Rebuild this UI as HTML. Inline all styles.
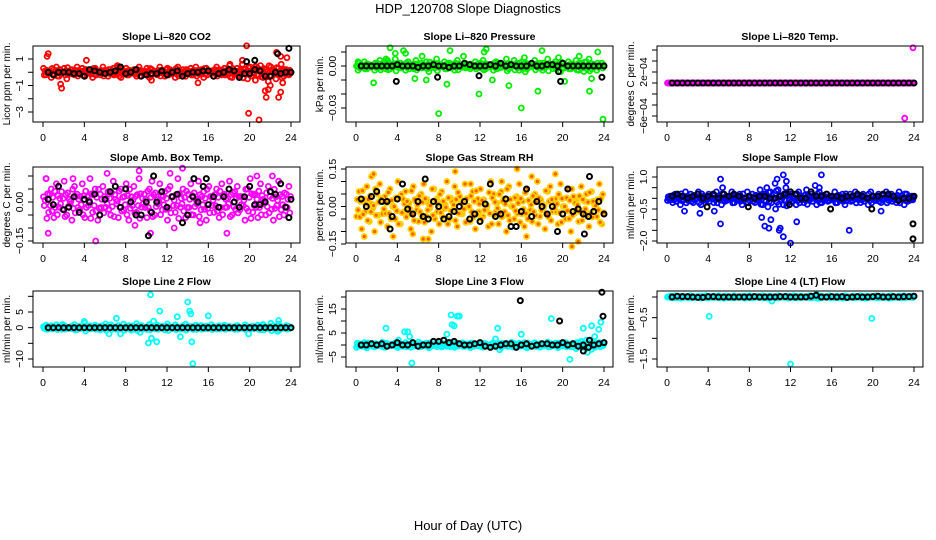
<!DOCTYPE html>
<html><head><meta charset="utf-8">
<style>
html,body{margin:0;padding:0;background:#fff;}
svg{display:block;font-family:"Liberation Sans",sans-serif;}
</style></head>
<body>
<svg id="chart" width="936" height="540" viewBox="0 0 936 540">
<text x="468" y="13" text-anchor="middle" font-size="13">HDP_120708  Slope Diagnostics</text>
<text x="468" y="530" text-anchor="middle" font-size="13">Hour of Day (UTC)</text>
</svg>
<script>
// ---- sampling times (hours) ----
const colHours = []; for (let i = 0; i < 96; i++) colHours.push(i * 0.25);
const blkHours = []; for (let i = 0; i < 48; i++) blkHours.push(0.5 + i * 0.5);
const xTicks = [0, 4, 8, 12, 16, 20, 24];

// ---- Panel 1: Li-820 CO2 ----
const co2Col = [0.3,-0.2,0.1,-0.4,0.2,0.4,-0.3,0.0,0.3,-0.5,0.1,0.2,-0.2,0.4,-0.1,0.3,-0.3,0.1,0.2,-0.4,0.3,0.0,-0.2,0.4,0.1,-0.3,0.2,0.3,-0.1,0.4,-0.4,0.1,0.3,-0.2,0.0,0.2,-0.3,0.4,0.1,-0.1,0.3,-0.4,0.2,0.0,-0.2,0.4,0.1,-0.3,0.3,0.2,-0.1,-0.4,0.4,0.0,0.2,-0.3,0.1,0.3,-0.2,0.4,-0.1,0.2,-0.4,0.3,0.0,0.1,-0.3,0.4,0.2,-0.2,0.3,-0.1,0.5,-0.4,0.1,0.3,-0.3,0.6,0.2,-0.5,0.4,0.0,-0.6,0.3,0.5,-0.4,0.2,-0.7,0.4,0.1,-0.5,0.3,0.6,-0.3,0.2,-0.2];
const co2OutX = [0.4,0.5,1.7,1.8,4.2,7.2,18.1,19.3,19.7,19.9,20.9,21.5,21.6,21.8,22.0,22.8,23.0,23.2,23.0,23.6,22.6,20.5,15.0,10.5];
const co2OutY = [1.2,1.4,-0.9,-1.2,0.9,0.5,0.6,0.9,2.0,-3.1,-3.6,-1.4,-1.9,-1.3,-1.0,-1.9,1.2,-0.8,-1.5,1.1,1.5,0.4,-0.8,-0.6];
const co2Blk = [0.0,-0.2,0.0,0.0,0.0,-0.1,-0.1,-0.3,0.2,0.1,0.0,-0.1,0.0,0.1,0.4,-0.1,0.0,0.2,-0.3,-0.2,-0.1,-0.1,0.1,-0.2,0.0,0.1,-0.3,-0.1,0.0,0.0,0.1,0.1,-0.3,-0.1,0.0,0.2,0.1,-0.4,-0.1,-0.1,0.2,0.1,-0.3,-0.3,0.0,-0.1,0.0,0.0];
const co2BlkOutX = [19.7,20.5,22.7,23.8];
const co2BlkOutY = [0.8,0.9,1.4,1.8];

// ---- Panel 2: Li-820 Pressure ----
const presCol = [0.000,0.002,-0.001,0.003,-0.002,0.001,0.000,-0.003,0.002,0.004,-0.001,0.003,0.004,-0.002,0.001,0.005,-0.001,0.002,0.000,-0.003,0.003,0.001,-0.002,0.004,0.000,0.002,-0.001,0.003,-0.004,0.001,0.002,0.005,-0.001,0.000,0.003,-0.002,0.002,0.001,-0.003,0.004,0.000,-0.001,0.002,0.001,-0.002,0.000,0.003,-0.001,0.002,0.004,-0.002,0.001,0.000,-0.003,0.003,0.002,-0.001,0.001,0.005,-0.002,0.000,0.004,0.002,-0.003,0.003,0.006,-0.002,0.001,0.000,0.004,-0.001,0.002,-0.003,0.001,0.005,0.000,-0.002,0.003,0.001,-0.004,0.002,0.000,0.003,-0.002,0.001,0.004,-0.003,0.002,-0.004,0.003,0.005,-0.002,0.001,-0.003,0.000,0.002];
const presOutX = [0.2,0.2,3.3,3.8,4.6,4.8,1.7,8.0,8.8,9.1,6.4,6.8,11.9,12.6,12.4,13.2,14.8,16.0,17.6,18.0,19.6,20.2,21.6,22.6,23.4,23.9,2.9,10.4,5.7,22.8];
const presOutY = [0.003,-0.003,0.013,0.009,0.011,0.009,-0.012,-0.034,-0.013,0.011,0.007,-0.010,-0.020,0.012,0.010,-0.010,-0.014,-0.030,-0.018,0.011,0.006,-0.011,0.007,-0.018,0.010,-0.038,0.005,0.007,-0.009,-0.009];
const presBlk = [0.000,0.000,0.000,0.000,0.000,0.000,0.000,0.001,0.000,0.000,0.000,-0.001,0.000,0.000,0.001,0.000,0.000,-0.001,0.000,0.000,0.002,0.001,0.000,0.000,0.000,0.001,0.000,0.002,0.000,0.001,0.000,0.000,0.000,0.002,0.000,0.000,0.001,0.001,0.000,0.002,0.000,0.000,0.000,0.000,0.000,0.000,0.000,0.000];
const presBlkOutX = [3.9,7.9,11.9,19.8,23.8,19.6];
const presBlkOutY = [-0.011,-0.008,-0.007,-0.011,-0.008,-0.004];

// ---- Panel 3: Li-820 Temp ----
const tempCol = new Array(96).fill(0);
const tempOutX = [23.9,23.1];
const tempOutY = [0.00064,-0.00064];
const tempBlk = new Array(48).fill(0);
const tempBlkOutX = [];
const tempBlkOutY = [];

// ---- Panel 4: Amb. Box Temp ----
const ambCol = [0.02,0.09,-0.04,0.05,-0.06,0.07,-0.02,0.04,0.08,-0.05,0.01,-0.07,0.06,0.03,-0.03,0.07,-0.06,0.02,0.09,-0.04,0.05,-0.07,0.03,0.06,-0.02,0.04,-0.05,0.08,0.01,-0.06,0.05,-0.03,0.07,-0.07,0.02,0.06,-0.04,0.09,-0.02,0.03,-0.06,0.05,0.08,-0.05,0.01,0.07,-0.03,0.04,-0.07,0.06,0.02,-0.04,0.09,-0.02,0.05,-0.06,0.03,0.07,-0.05,0.01,0.08,-0.03,0.04,-0.07,0.06,0.02,-0.04,0.05,-0.06,0.07,0.03,-0.02,0.08,-0.05,0.04,0.06,-0.03,0.02,-0.07,0.05,0.09,-0.04,0.03,-0.06,0.07,0.01,-0.05,0.06,0.04,-0.07,0.02,0.08,-0.03,-0.05,0.03,0.06];
const ambOutX = [0.3,5.1,9.3,13.5,12.3,20.7,22.2,6.2,17.8,10.4,8.9,12.7,0.5,2.9,15.2];
const ambOutY = [0.09,-0.15,0.12,0.13,0.11,0.10,0.10,0.11,-0.12,-0.12,-0.09,-0.10,-0.12,0.09,-0.08];
const ambBlk = [0.01,-0.01,0.06,-0.03,-0.02,0.02,-0.04,0.01,0.00,0.03,-0.05,0.01,0.04,0.06,-0.02,0.05,0.00,-0.05,-0.05,0.00,-0.04,0.00,0.04,-0.02,0.02,0.03,-0.08,-0.05,0.02,0.00,0.06,-0.01,0.02,-0.02,0.02,0.05,0.00,-0.02,0.02,0.06,-0.01,-0.01,0.00,0.04,0.03,0.07,-0.02,0.01];
const ambBlkOutX = [10.2,10.7,14.6,15.8,23.8];
const ambBlkOutY = [-0.13,0.10,0.09,0.09,-0.06];

// ---- Panel 5: Gas Stream RH ----
const rhCol = [-0.04,0.06,-0.09,0.03,0.08,-0.06,0.01,-0.10,0.05,0.09,-0.03,0.04,-0.08,0.07,0.00,-0.05,0.10,-0.07,0.03,0.06,-0.02,-0.09,0.08,0.02,-0.06,0.05,0.09,-0.04,0.01,-0.10,0.07,0.03,-0.07,0.06,-0.01,0.10,-0.05,0.02,0.08,-0.08,0.04,-0.03,0.09,0.00,-0.06,0.06,-0.09,0.03,0.07,-0.04,0.01,-0.08,0.10,0.05,-0.02,-0.07,0.06,0.03,-0.10,0.08,0.00,-0.05,0.04,0.09,-0.03,-0.08,0.07,0.02,-0.06,0.05,0.10,-0.04,0.01,-0.09,0.06,0.08,-0.02,0.03,-0.07,0.09,0.00,-0.05,0.07,-0.10,0.04,0.02,-0.06,0.08,-0.03,0.05,-0.08,0.06,0.01,-0.04,0.09,-0.07];
const rhOutX = [1.5,1.7,9.6,15.6,17.0,19.3,20.9,6.5,7.0,3.6,0.8,16.5,21.5,14.1,11.1,5.5];
const rhOutY = [0.12,0.13,0.14,0.15,0.12,0.13,-0.16,-0.13,-0.13,-0.12,-0.12,-0.12,-0.14,0.10,0.09,-0.11];
const rhBlk = [0.03,0.00,0.04,0.06,0.02,0.02,-0.04,0.03,0.09,-0.01,-0.03,0.02,-0.04,-0.05,0.02,0.00,-0.05,-0.04,-0.02,0.00,0.02,-0.05,-0.03,-0.06,0.01,0.09,-0.04,-0.03,0.03,-0.08,-0.08,-0.02,0.07,-0.04,0.02,0.00,-0.03,0.00,-0.10,-0.03,0.07,-0.02,-0.01,-0.03,-0.04,-0.02,0.02,-0.03];
const rhBlkOutX = [6.7,22.6,3.3,22.1];
const rhBlkOutY = [0.11,0.12,-0.09,-0.11];

// ---- Panel 6: Sample Flow ----
const sfCol = [-0.1,0.1,-0.2,0.2,0.0,-0.3,0.1,0.3,-0.1,0.2,-0.2,0.0,0.3,-0.3,0.1,-0.1,0.2,0.0,-0.2,0.3,0.1,-0.3,0.2,-0.1,0.0,0.3,-0.2,0.1,0.2,-0.3,0.0,0.3,-0.1,0.2,-0.2,0.1,0.4,-0.3,0.2,-0.4,0.3,0.0,-0.5,0.4,0.1,-0.3,0.5,-0.2,0.2,0.0,-0.3,0.3,0.1,-0.2,0.4,-0.1,0.2,0.0,-0.3,0.3,-0.2,0.1,0.2,-0.1,0.0,0.3,-0.2,0.1,0.2,-0.3,0.0,0.2,-0.1,0.3,0.1,-0.2,0.2,0.0,-0.3,0.3,0.1,-0.1,0.2,-0.2,0.0,0.3,-0.1,0.2,0.1,-0.2,0.3,0.0,-0.3,0.2,-0.1,0.1];
const sfOutX = [5.2,11.3,15.0,10.7,9.5,9.9,10.9,11.3,12.0,12.6,5.2,9.2,17.7,11.0,4.6,1.7,3.2,20.8,10.1,11.6,9.7,10.5,14.4,14.8,5.4];
const sfOutY = [0.9,1.1,1.1,0.9,-1.3,-1.4,-1.5,-1.8,-2.1,-1.1,-1.2,-0.9,-1.5,-1.4,-0.6,-0.6,-0.7,-0.6,-1.0,0.8,0.5,0.7,0.6,0.5,0.5];
const sfBlk = [0.1,0.2,0.1,0.0,0.1,0.2,0.0,0.1,0.2,0.0,0.2,0.1,0.2,0.1,0.0,0.1,0.0,0.1,0.1,0.0,0.0,0.1,0.2,0.3,0.2,0.0,0.0,0.3,0.1,0.1,0.2,0.1,0.1,0.0,0.1,0.1,0.2,0.1,0.0,0.1,0.1,0.2,0.2,0.1,-0.1,0.0,0.0,0.1];
const sfBlkOutX = [23.9,23.9,3.9,7.9,11.9,15.9,19.9];
const sfBlkOutY = [-1.2,-1.9,-0.4,-0.4,-0.3,-0.5,-0.5];

// ---- Panel 7: Line 2 Flow ----
const l2Col = [0.3,0.8,-0.4,0.6,-0.2,0.9,0.1,-0.5,0.7,0.2,-0.3,0.5,1.0,-0.6,0.4,0.0,1.5,-0.4,0.6,-0.2,0.8,0.3,-0.7,0.5,1.2,-0.1,0.9,0.2,-0.5,0.7,0.0,1.1,-0.3,0.6,-0.8,0.4,1.3,-0.2,0.7,0.1,-0.6,1.0,0.3,-0.4,0.8,-0.1,0.5,-0.7,1.2,0.2,-0.3,0.9,0.0,-0.5,0.6,1.1,-0.2,0.4,-0.6,0.8,0.1,0.7,-0.4,0.5,-0.1,0.9,0.3,-0.5,0.6,0.0,0.8,-0.3,0.4,0.2,-0.6,0.7,0.1,-0.2,0.9,0.3,-0.4,0.5,0.0,0.8,-0.7,1.0,0.2,-0.3,1.4,0.6,-0.5,1.1,0.3,-0.2,0.7,0.4];
const l2OutX = [10.4,14.0,14.2,14.3,11.3,13.0,16.0,7.1,14.5,14.4,10.2,10.5,11.0,13.3,6.4,7.5,19.9,10.7,9.4,22.7,4.0,22.8,1.9];
const l2OutY = [10.5,8.2,5.3,4.4,5.3,3.5,3.8,3.0,-11.5,-4.5,-4.9,-3.4,-4.5,-2.9,-2.0,-2.0,-2.0,2.1,-1.5,-1.2,2.0,2.3,1.0];
const l2Blk = new Array(48).fill(0);
const l2BlkOutX = [];
const l2BlkOutY = [];

// ---- Panel 8: Line 3 Flow ----
const l3Col = [-1.0,0.5,-0.5,1.0,-1.2,0.2,0.8,-0.8,0.3,-0.3,1.1,-1.0,0.6,-0.4,0.0,0.9,-1.1,0.4,-0.6,1.0,0.2,-0.9,0.7,-0.2,1.2,-0.7,0.1,0.8,-1.2,0.5,-0.3,1.0,0.0,-0.8,0.6,-0.5,1.1,0.3,-1.0,0.7,-0.1,0.9,-0.6,0.4,-1.1,0.8,0.2,-0.4,1.0,-0.9,0.5,0.0,-0.7,0.9,-0.2,0.6,-1.0,0.3,0.8,-0.5,1.1,-0.8,0.1,0.7,-0.3,1.0,-1.2,0.4,-0.6,0.9,0.2,-0.9,0.6,-0.1,1.2,-0.7,0.3,0.8,-1.1,0.5,-0.4,1.0,0.0,-0.8,0.7,-1.5,0.9,1.5,-1.0,2.0,0.6,-1.8,1.3,-0.5,1.0,0.4];
const l3OutX = [2.9,4.7,5.0,5.2,5.4,8.8,9.2,9.3,9.5,9.8,10.0,13.7,13.5,16.0,18.9,20.7,22.0,22.8,23.1,23.5,23.7,22.4,4.1,13.9];
const l3OutY = [7,5.5,5.5,3.5,-7.5,4.5,12.5,8.5,8,12,12,7,2.5,4.5,11,-6,7,8,3.5,6.5,9.5,-3,2.0,-2.0];
const l3Blk = [0.0,0.0,0.5,0.0,0.5,-0.5,0.0,1.0,0.0,0.0,1.0,-0.5,0.0,0.0,1.5,1.5,2.0,1.0,1.5,0.5,0.0,0.0,0.5,1.0,-0.5,-1.0,-0.5,0.0,0.5,0.5,-1.0,0.0,0.5,-0.5,0.0,0.5,0.5,0.0,0.0,1.0,0.0,0.5,-0.5,0.0,-1.0,0.0,0.5,1.0];
const l3BlkOutX = [15.9,19.7,23.8,23.9,22.0,22.6];
const l3BlkOutY = [18.5,10,22,12,-2.5,2.0];

// ---- Panel 9: Line 4 (LT) Flow ----
const l4Col = [0.00,0.02,-0.02,0.03,0.01,-0.03,0.02,0.00,-0.02,0.03,0.01,-0.01,0.02,-0.03,0.00,0.03,-0.02,0.01,0.02,-0.01,0.03,0.00,-0.03,0.02,0.01,-0.02,0.03,0.00,-0.01,0.02,-0.03,0.01,0.03,-0.02,0.00,0.02,-0.01,0.03,0.01,-0.03,0.02,0.00,-0.02,0.03,-0.01,0.01,0.02,-0.03,0.00,0.03,-0.02,0.01,0.02,0.00,-0.01,0.03,-0.02,0.01,0.04,-0.03,0.02,0.00,-0.01,0.03,0.01,-0.02,0.02,0.00,-0.03,0.03,0.01,-0.01,0.02,-0.02,0.00,0.03,0.01,-0.03,0.02,0.00,-0.01,0.03,-0.02,0.01,0.02,0.00,-0.03,0.03,0.01,-0.01,0.02,-0.02,0.03,0.00,0.01,0.02];
const l4OutX = [4.1,19.9,12.0,10.2,14.5];
const l4OutY = [-0.47,-0.52,-1.62,-0.10,0.07];
const l4Blk = [0.00,0.02,0.01,0.01,0.00,-0.01,-0.01,0.01,0.01,0.00,0.00,0.00,0.00,0.00,0.00,0.00,0.01,0.00,0.00,0.00,0.00,0.01,0.01,0.00,0.00,0.00,0.00,0.02,0.04,0.00,0.00,0.01,0.00,0.01,-0.01,0.00,0.01,0.00,0.00,0.01,0.02,0.00,0.00,0.01,0.00,0.01,0.01,0.02];
const l4BlkOutX = [];
const l4BlkOutY = [];

// ---- layout (not data) ----
const cols = [{x0:43,x24:291},{x0:356,x24:604},{x0:667,x24:914}];
const rows = [{top:46,bot:122},{top:167,bot:243},{top:291,bot:367}];

const panels = [
 {name:'co2',title:'Slope Li\u2013820 CO2',ylab:'Licor ppm per min.',c:0,r:0,v1:1,p1:59,v2:-3,p2:112,ticks:[-3,-2,-1,0,1],labels:[[1,'1'],[-1,'\u22121'],[-3,'\u22123']],col:'#ff0000',fill:'none',cy:co2Col,ox:co2OutX,oy:co2OutY,by:co2Blk,bx2:co2BlkOutX,by2:co2BlkOutY},
 {name:'pressure',title:'Slope Li\u2013820 Pressure',ylab:'kPa per min.',c:1,r:0,v1:0,p1:66,v2:-0.03,p2:108,ticks:[0.01,0,-0.01,-0.02,-0.03],labels:[[0,'0.00'],[-0.03,'\u22120.03']],col:'#00ee00',fill:'none',cy:presCol,ox:presOutX,oy:presOutY,by:presBlk,bx2:presBlkOutX,by2:presBlkOutY},
 {name:'li820-temp',title:'Slope Li\u2013820 Temp.',ylab:'degrees C per min.',c:2,r:0,v1:0,p1:83,v2:-0.0006,p2:116,ticks:[-0.0006,-0.0004,-0.0002,0,0.0002,0.0004,0.0006],labels:[[0.0002,'2e\u221204'],[-0.0006,'\u22126e\u221204']],col:'#ff00ff',fill:'none',cy:tempCol,ox:tempOutX,oy:tempOutY,by:tempBlk,bx2:tempBlkOutX,by2:tempBlkOutY},
 {name:'amb-box-temp',title:'Slope Amb. Box Temp.',ylab:'degrees C per min.',c:0,r:1,v1:0,p1:202,v2:-0.15,p2:241,ticks:[-0.15,-0.1,-0.05,0,0.05,0.1],labels:[[0,'0.00'],[-0.15,'\u22120.15']],col:'#ff00ff',fill:'none',cy:ambCol,ox:ambOutX,oy:ambOutY,by:ambBlk,bx2:ambBlkOutX,by2:ambBlkOutY},
 {name:'gas-stream-rh',title:'Slope Gas Stream RH',ylab:'percent per min.',c:1,r:1,v1:0.15,p1:169,v2:-0.15,p2:244,ticks:[-0.15,-0.1,-0.05,0,0.05,0.1,0.15],labels:[[0.15,'0.15'],[0,'0.00'],[-0.15,'\u22120.15']],col:'#ffd000',fill:'#ff5a00',cy:rhCol,ox:rhOutX,oy:rhOutY,by:rhBlk,bx2:rhBlkOutX,by2:rhBlkOutY},
 {name:'sample-flow',title:'Slope Sample Flow',ylab:'ml/min per min.',c:2,r:1,v1:1,p1:177,v2:-2,p2:241,ticks:[1,0.5,0,-0.5,-1,-1.5,-2],labels:[[1,'1.0'],[-0.5,'\u22120.5'],[-2,'\u22122.0']],col:'#0000ff',fill:'none',cy:sfCol,ox:sfOutX,oy:sfOutY,by:sfBlk,bx2:sfBlkOutX,by2:sfBlkOutY},
 {name:'line2-flow',title:'Slope Line 2 Flow',ylab:'ml/min per min.',c:0,r:2,v1:5,p1:312,v2:-10,p2:359,ticks:[10,5,0,-5,-10],labels:[[5,'5'],[0,'0'],[-10,'\u221210']],col:'#00ffff',fill:'none',cy:l2Col,ox:l2OutX,oy:l2OutY,by:l2Blk,bx2:l2BlkOutX,by2:l2BlkOutY},
 {name:'line3-flow',title:'Slope Line 3 Flow',ylab:'ml/min per min.',c:1,r:2,v1:15,p1:309,v2:-5,p2:357,ticks:[20,15,10,5,0,-5],labels:[[15,'15'],[5,'5'],[-5,'\u22125']],col:'#00ffff',fill:'none',cy:l3Col,ox:l3OutX,oy:l3OutY,by:l3Blk,bx2:l3BlkOutX,by2:l3BlkOutY},
 {name:'line4-flow',title:'Slope Line 4 (LT) Flow',ylab:'ml/min per min.',c:2,r:2,v1:0,p1:297,v2:-1.5,p2:359,ticks:[0,-0.5,-1,-1.5],labels:[[-0.5,'\u22120.5'],[-1.5,'\u22121.5']],col:'#00ffff',fill:'none',cy:l4Col,ox:l4OutX,oy:l4OutY,by:l4Blk,bx2:l4BlkOutX,by2:l4BlkOutY}
];

const NS = 'http://www.w3.org/2000/svg';
const svg = document.getElementById('chart');
function mk(tag, attrs, parent){
  const e = document.createElementNS(NS, tag);
  for (const k in attrs) e.setAttribute(k, attrs[k]);
  (parent||svg).appendChild(e);
  return e;
}

panels.forEach(p => {
  const C = cols[p.c], R = rows[p.r];
  const sx = (C.x24 - C.x0) / 24;
  const xs = h => C.x0 + h * sx;
  const ys = v => p.p1 + (v - p.v1) * (p.p2 - p.p1) / (p.v2 - p.v1);
  const left = xs(-0.97), right = xs(24.87);
  const g = mk('g', {});
  
  

  const t = mk('text', {x:(left+right)/2, y:R.top-6, 'text-anchor':'middle', 'font-size':'10.5', 'font-weight':'bold'}, g);
  t.textContent = p.title;
  
  

  const pts = mk('g', {fill:p.fill, stroke:p.col, 'stroke-width':'1.8'}, g);
  
  
  const drawPt = (parent, x, y, r) => {
    const c = mk('circle', {cx:x.toFixed(1), cy:y.toFixed(1), r:r}, parent);
    
    
  };
  p.cy.forEach((v,i) => drawPt(pts, xs(colHours[i]+0.05), ys(v), 2.5));
  p.cy.forEach((v,i) => drawPt(pts, xs(colHours[i]+0.13), ys(-v*0.7), 2.5));
  p.cy.forEach((v,i) => drawPt(pts, xs(colHours[i]+0.2), ys(v*0.35), 2.5));
  p.ox.forEach((h,i) => drawPt(pts, xs(h), ys(p.oy[i]), 2.5));

  const bp = mk('g', {fill:'none', stroke:'#000', 'stroke-width':'2'}, g);
  
  
  p.by.forEach((v,i) => drawPt(bp, xs(blkHours[i]), ys(v), 2.5));
  p.bx2.forEach((h,i) => drawPt(bp, xs(h), ys(p.by2[i]), 2.5));

  const box = mk('rect', {x:left, y:R.top, width:right-left, height:R.bot-R.top, fill:'none', stroke:'#000', 'stroke-width':'1'}, g);
  
  

  const xa = mk('g', {}, g);
  
  
  xTicks.forEach(h => {
    mk('line', {x1:xs(h), x2:xs(h), y1:R.bot, y2:R.bot+5, stroke:'#000'}, xa);
    const tl = mk('text', {x:xs(h), y:R.bot+19, 'text-anchor':'middle', 'font-size':'10.5'}, xa);
    tl.textContent = h;
    
    
  });
  const ya = mk('g', {}, g);
  
  
  p.ticks.forEach(v => mk('line', {x1:left-5, x2:left, y1:ys(v), y2:ys(v), stroke:'#000'}, ya));
  p.labels.forEach(([v,s]) => {
    const yl = mk('text', {x:0, y:0, 'text-anchor':'middle', 'font-size':'10.5', transform:`translate(${left-10},${ys(v)}) rotate(-90)`}, ya);
    yl.textContent = s;
    
    
  });
  const yt = mk('text', {x:0, y:0, 'text-anchor':'middle', 'font-size':'10', transform:`translate(${left-23},${(R.top+R.bot)/2}) rotate(-90)`}, g);
  yt.textContent = p.ylab;
  
  
});
</script>
</body></html>
